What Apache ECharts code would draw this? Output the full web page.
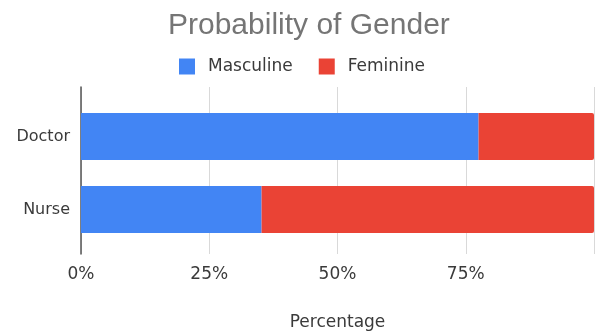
<!DOCTYPE html>
<html>
<head>
<meta charset="utf-8">
<script src="https://cdn.jsdelivr.net/npm/echarts@6/dist/echarts.min.js"></script>
<style>html,body{margin:0;padding:0;background:#fff;}#c{width:598px;height:336px;}</style>
</head>
<body>
<div id="c"></div>
<script>
const categories = ['Doctor', 'Nurse'];
const masculine = [77.5, 35.2];
const feminine = [22.5, 64.8];
const tickValues = [0, 25, 50, 75, 100];
const seriesNames = ['Masculine', 'Feminine'];

const chart = echarts.init(document.getElementById('c'), null, {renderer: 'canvas'});
const small = {fontFamily: 'DejaVu Sans', fontSize: 17, color: '#3a3a3a'};
chart.setOption({
  animation: false,
  title: {
    text: 'Probability of Gender',
    left: 163, top: 6,
    textStyle: {fontFamily: 'Liberation Sans', fontSize: 30, fontWeight: 'normal', color: '#757575'}
  },
  legend: {
    data: seriesNames,
    left: 179, top: 58, padding: 0,
    icon: 'rect', itemWidth: 16, itemHeight: 16, itemGap: 26,
    textStyle: Object.assign({}, small, {padding: [0, 0, 0, 8]})
  },
  grid: [
    {left: 81, right: 4, top: 87, bottom: 77, containLabel: false},
    {left: 81, right: 4, top: 100, bottom: 90, containLabel: false}
  ],
  xAxis: [
    {
      type: 'value', gridIndex: 0, min: 0, max: 100, interval: 25,
      name: 'Percentage', nameLocation: 'middle', nameGap: 60,
      nameTextStyle: small,
      axisLine: {show: false}, axisTick: {show: false},
      splitLine: {show: true, lineStyle: {color: '#d9d9d9', width: 1}},
      axisLabel: Object.assign({}, small, {
        margin: 12, showMaxLabel: false,
        formatter: v => tickValues.indexOf(v) >= 0 && v < 100 ? v + '%' : ''
      })
    },
    {
      type: 'value', gridIndex: 1, min: 0, max: 100, interval: 25, show: false
    }
  ],
  yAxis: [
    {
      type: 'category', gridIndex: 0, data: [''],
      axisLine: {show: true, lineStyle: {color: '#555', width: 1.5}},
      axisTick: {show: false}, axisLabel: {show: false}, splitLine: {show: false}
    },
    {
      type: 'category', gridIndex: 1, data: categories, inverse: true,
      axisLine: {show: false}, axisTick: {show: false},
      axisLabel: Object.assign({}, small, {fontSize: 16, margin: 11})
    }
  ],
  series: [
    {name: seriesNames[0], type: 'bar', stack: 'g', xAxisIndex: 1, yAxisIndex: 1,
     data: masculine, barWidth: 47, itemStyle: {color: '#4285F4'}},
    {name: seriesNames[1], type: 'bar', stack: 'g', xAxisIndex: 1, yAxisIndex: 1,
     data: feminine, barWidth: 47, itemStyle: {color: '#EA4335', borderRadius: [0, 2, 2, 0]}}
  ]
});
</script>
</body>
</html>
